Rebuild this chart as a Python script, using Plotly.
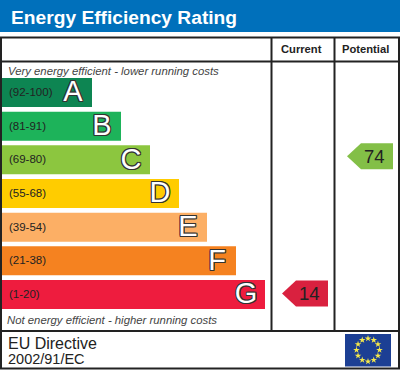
import math
import plotly.graph_objects as go

bands = ["(92-100)", "(81-91)", "(69-80)", "(55-68)", "(39-54)", "(21-38)", "(1-20)"]
letters = ["A", "B", "C", "D", "E", "F", "G"]
lengths = [90, 119, 148, 177, 205, 234, 263]
colors = ["#0d8552", "#1db35a", "#8cc63f", "#ffcc00", "#fcaf65", "#f58220", "#ee1c3e"]
title = "Energy Efficiency Rating"
col_heads = ["Current", "Potential"]
current = 14
potential = 74
top_note = "Very energy efficient - lower running costs"
bottom_note = "Not energy efficient - higher running costs"

ROW0, STEP, BAR_H = 92.5, 33.67, 29
row_y = [ROW0 + i * STEP for i in range(7)]
FONT = "Liberation Sans"


def row_of(v):
    for i, b in enumerate(bands):
        lo, hi = b.strip("()").split("-")
        if int(lo) <= v <= int(hi):
            return i


fig = go.Figure()
fig.add_trace(go.Bar(y=row_y, x=lengths, base=2, width=BAR_H, orientation="h",
                     marker=dict(color=colors, line=dict(width=0)), hoverinfo="skip"))
fig.add_trace(go.Scatter(x=[9] * 7, y=[y + 0.5 for y in row_y], mode="text", text=bands,
                         textposition="middle right",
                         textfont=dict(family=FONT, size=11.5, color="#222222"), hoverinfo="skip"))
outline = ",".join(f"{a}px {b}px 0 #333" for a in (-1, 0, 1) for b in (-1, 0, 1))
fig.add_trace(go.Scatter(x=[2 + l - 19 for l in lengths], y=[y + 1.5 for y in row_y], mode="text",
                         text=letters, textposition="middle center",
                         textfont=dict(family=FONT, size=29, color="white", shadow=outline),
                         hoverinfo="skip"))


def pointer(value, x_left, x_right, color, font_size, dy):
    y = row_y[row_of(value)] + dy
    h = 13
    fig.add_trace(go.Scatter(x=[x_left, x_left + 14, x_right, x_right, x_left + 14, x_left],
                             y=[y, y - h, y - h, y + h, y + h, y], fill="toself", fillcolor=color,
                             mode="lines", line=dict(width=0), hoverinfo="skip"))
    fig.add_annotation(x=(x_left + 8 + x_right) / 2, y=y, text=str(value), showarrow=False,
                       font=dict(family=FONT, size=font_size, color="#222222"))


pointer(current, 282, 328, "#d9213f", 18.5, -1)
pointer(potential, 347, 393, "#83bf47", 18.5, -3.5)

line_style = dict(color="#222", width=2)
shapes = [
    dict(type="rect", x0=0, x1=400, y0=0, y1=32, fillcolor="#0070bb", line_width=0, layer="below"),
    dict(type="rect", x0=1, x1=399, y0=37.5, y1=368.5, line=line_style),
    dict(type="line", x0=1, x1=399, y0=61.5, y1=61.5, line=line_style),
    dict(type="line", x0=1, x1=399, y0=331, y1=331, line=line_style),
    dict(type="line", x0=271.5, x1=271.5, y0=37.5, y1=331, line=line_style),
    dict(type="line", x0=334.5, x1=334.5, y0=37.5, y1=331, line=line_style),
    dict(type="rect", x0=345, x1=391, y0=334, y1=366.5, fillcolor="#1c3f94", line_width=0, layer="below"),
]

star_x = [368 + 11.5 * math.sin(i * math.pi / 6) for i in range(12)]
star_y = [350 - 11.5 * math.cos(i * math.pi / 6) for i in range(12)]
fig.add_trace(go.Scatter(x=star_x, y=star_y, mode="markers", hoverinfo="skip",
                         marker=dict(symbol="star", size=5, color="#f5e84a", line_width=0)))

anns = [
    dict(x=9, y=17, text=f"<b>{title}</b>", xanchor="left", font=dict(family=FONT, size=19.2, color="white")),
    dict(x=301, y=49, text=f"<b>{col_heads[0]}</b>", font=dict(family=FONT, size=11.2, color="#222")),
    dict(x=365.5, y=49, text=f"<b>{col_heads[1]}</b>", font=dict(family=FONT, size=11.2, color="#222")),
    dict(x=6, y=70.5, text=f"<i>{top_note}</i>", xanchor="left", font=dict(family=FONT, size=11.35, color="#444")),
    dict(x=5, y=320, text=f"<i>{bottom_note}</i>", xanchor="left", font=dict(family=FONT, size=11.35, color="#444")),
    dict(x=6, y=343, text="EU Directive", xanchor="left", font=dict(family=FONT, size=16, color="#222")),
    dict(x=6, y=359, text="2002/91/EC", xanchor="left", font=dict(family=FONT, size=14.5, color="#222")),
]
for a in anns:
    fig.add_annotation(showarrow=False, **a)

fig.update_layout(width=400, height=370, margin=dict(l=0, r=0, t=0, b=0), showlegend=False,
                  plot_bgcolor="white", paper_bgcolor="white", shapes=shapes,
                  xaxis=dict(range=[0, 400], visible=False, fixedrange=True),
                  yaxis=dict(range=[370, 0], visible=False, fixedrange=True))
fig.write_html("out.html", config={"displayModeBar": False},
               post_script="document.body.style.margin='0';document.body.style.overflow='hidden';")
